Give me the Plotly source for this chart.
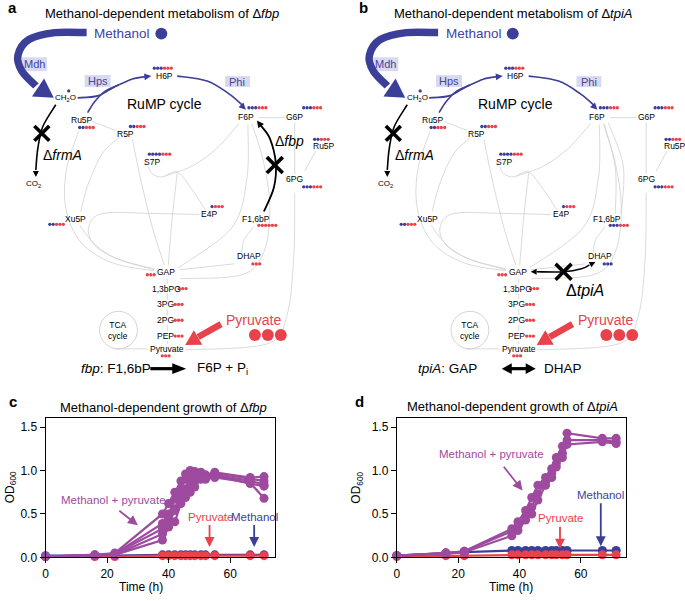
import math
import plotly.graph_objects as go

# ------------------------------------------------------------------
# DATA
# ------------------------------------------------------------------
time_fbp = [0, 16, 22.5, 38, 40, 42, 44, 45.5, 47, 48.5, 50.5, 52, 55, 66.5, 71]
fbp_meoh_pyr = [
    [0.01, 0.03, 0.05, 0.50, 0.62, 0.75, 0.88, 0.96, 1.00, 0.99, 0.98, 0.95, 0.98, 0.92, 0.93],
    [0.01, 0.03, 0.04, 0.39, 0.50, 0.67, 0.80, 0.90, 0.97, 0.96, 0.95, 0.94, 0.97, 0.90, 0.88],
    [0.01, 0.02, 0.04, 0.33, 0.45, 0.56, 0.71, 0.79, 0.88, 0.94, 0.96, 0.93, 0.95, 0.88, 0.84],
    [0.01, 0.02, 0.03, 0.27, 0.40, 0.54, 0.66, 0.73, 0.82, 0.88, 0.92, 0.92, 0.94, 0.85, 0.82],
    [0.01, 0.02, 0.03, 0.20, 0.35, 0.41, 0.62, 0.69, 0.75, 0.81, 0.90, 0.90, 0.92, 0.86, 0.68],
]
fbp_methanol = [0.02, 0.02, 0.02, 0.03, 0.03, 0.03, 0.03, 0.03, 0.03, 0.03, 0.03, 0.03, 0.03, 0.03, 0.03]
fbp_pyruvate = [0.01, 0.01, 0.01, 0.02, 0.02, 0.02, 0.02, 0.02, 0.02, 0.02, 0.02, 0.02, 0.02, 0.02, 0.02]

time_tpiA = [0, 16, 22, 37.5, 39.5, 42, 44, 46, 48.5, 50.5, 52, 54, 55.5, 67, 71.5]
tpiA_meoh_pyr = [
    [0.02, 0.05, 0.07, 0.33, 0.41, 0.54, 0.69, 0.83, 0.92, 1.02, 1.15, 1.28, 1.43, 1.37, 1.37],
    [0.02, 0.05, 0.07, 0.30, 0.36, 0.47, 0.58, 0.73, 0.87, 0.97, 1.08, 1.20, 1.35, 1.35, 1.33],
    [0.02, 0.04, 0.06, 0.25, 0.31, 0.43, 0.50, 0.66, 0.83, 0.92, 1.04, 1.15, 1.30, 1.33, 1.31],
]
tpiA_methanol = [0.02, 0.05, 0.06, 0.08, 0.08, 0.08, 0.08, 0.08, 0.08, 0.08, 0.08, 0.08, 0.08, 0.08, 0.08]
tpiA_methanol_err = [0.005, 0.01, 0.01, 0.012, 0.012, 0.012, 0.012, 0.012, 0.012, 0.012, 0.012, 0.012, 0.012, 0.012, 0.012]
tpiA_pyruvate = [0.01, 0.02, 0.02, 0.03, 0.03, 0.03, 0.03, 0.03, 0.03, 0.03, 0.03, 0.03, 0.03, 0.03, 0.03]

x_ticks = [0, 20, 40, 60]
y_ticks = [0, 0.5, 1.0, 1.5]

# metabolite label-dot rows: (number blue, number red) per panel
dots_fbp = {"H6P": (3, 3), "F6P": (3, 3), "G6P": (3, 3), "Ru5P_r": (2, 3), "6PG": (3, 3),
            "Ru5P_l": (2, 3), "R5P": (2, 3), "S7P": (4, 3), "E4P": (1, 3), "Xu5P": (2, 3),
            "F1,6bP": (0, 6), "DHAP": (0, 3), "GAP": (0, 3), "1,3bPG": (0, 3), "3PG": (0, 3),
            "2PG": (0, 3), "PEP": (0, 3), "Pyruvate": (0, 3), "CH2O": (1, 0)}
dots_tpiA = dict(dots_fbp)
dots_tpiA["F1,6bP"] = (3, 3)
dots_tpiA["DHAP"] = (3, 0)

# ------------------------------------------------------------------
# STYLE
# ------------------------------------------------------------------
FONT = "Liberation Sans, Arial, Helvetica, sans-serif"
PURPLE = "#9E4A9F"
RED = "#E8424B"
BLUE = "#3B3F98"
BLUE_TXT = "#4343A3"
GREY = "#D0D0D0"
LAV = "#D8D8EE"
W, H = 685, 601

shapes = []
annots = []
dot_x, dot_y, dot_c = [], [], []


def P(x, y):
    return f"{x:.1f},{y:.1f}"


def smooth(pts):
    if len(pts) == 2:
        return f"M{P(*pts[0])} L{P(*pts[1])}"
    d = f"M{P(*pts[0])}"
    for i in range(len(pts) - 1):
        p0 = pts[i - 1] if i > 0 else pts[i]
        p1, p2 = pts[i], pts[i + 1]
        p3 = pts[i + 2] if i + 2 < len(pts) else p2
        c1 = (p1[0] + (p2[0] - p0[0]) / 6, p1[1] + (p2[1] - p0[1]) / 6)
        c2 = (p2[0] - (p3[0] - p1[0]) / 6, p2[1] - (p3[1] - p1[1]) / 6)
        d += f" C{P(*c1)} {P(*c2)} {P(*p2)}"
    return d


def curve(pts, color, width, layer="below"):
    shapes.append(dict(type="path", xref="x3", yref="y3", path=smooth(pts),
                       line=dict(color=color, width=width), layer=layer))


def head(tip, frm, L, hw, color):
    dx, dy = tip[0] - frm[0], tip[1] - frm[1]
    n = math.hypot(dx, dy)
    ux, uy = dx / n, dy / n
    bx, by = tip[0] - ux * L, tip[1] - uy * L
    px, py = -uy, ux
    path = f"M{P(*tip)} L{P(bx + px * hw, by + py * hw)} L{P(bx - px * hw, by - py * hw)} Z"
    shapes.append(dict(type="path", xref="x3", yref="y3", path=path,
                       fillcolor=color, line=dict(width=0), layer="above"))


def cross(cx, cy, s, color="black", w=3.6):
    for sx in (-1, 1):
        shapes.append(dict(type="line", xref="x3", yref="y3", x0=cx - s, y0=cy - s * sx,
                           x1=cx + s, y1=cy + s * sx, line=dict(color=color, width=w),
                           layer="above"))


def circle(cx, cy, r, fill=None, line=None, lw=0.8):
    shapes.append(dict(type="circle", xref="x3", yref="y3", x0=cx - r, x1=cx + r,
                       y0=cy - r, y1=cy + r, fillcolor=fill or "rgba(0,0,0,0)",
                       line=dict(color=line or "rgba(0,0,0,0)", width=lw if line else 0),
                       layer="above"))


def rect(x0, y0, x1, y1, fill):
    shapes.append(dict(type="rect", xref="x3", yref="y3", x0=x0, x1=x1, y0=y0, y1=y1,
                       fillcolor=fill, line=dict(width=0), layer="below"))


def text(x, y, s, size=9, color="black", xa="center", ya="middle", angle=0, bold=False):
    if bold:
        s = f"<b>{s}</b>"
    annots.append(dict(x=x, y=y, xref="x3", yref="y3", text=s, showarrow=False,
                       font=dict(family=FONT, size=size, color=color),
                       xanchor=xa, yanchor=ya, textangle=angle))


def dotrow(x0, y, nb, nr, step=3.4):
    for i in range(nb + nr):
        dot_x.append(x0 + i * step)
        dot_y.append(y)
        dot_c.append(BLUE if i < nb else RED)


node_pos = {"H6P": (162, 77), "F6P": (244, 118), "G6P": (293, 118), "Ru5P_r": (322, 148),
            "6PG": (293, 181), "Ru5P_l": (79, 121), "R5P": (123, 136), "S7P": (150, 164),
            "E4P": (207, 217), "Xu5P": (73, 222), "F1,6bP": (254, 222), "DHAP": (247, 259),
            "GAP": (164, 275), "1,3bPG": (164, 292), "3PG": (163, 308), "2PG": (163, 324),
            "PEP": (163, 340), "Pyruvate": (165, 353)}
dot_pos = {"H6P": (152, 69), "F6P": (247, 109), "G6P": (302, 109), "Ru5P_r": (313, 141),
           "6PG": (302, 189), "Ru5P_l": (77, 129), "R5P": (128, 128), "S7P": (147, 156),
           "E4P": (210, 209), "Xu5P": (47, 227), "F1,6bP": (257, 228), "DHAP": (251, 267),
           "GAP": (145, 278), "1,3bPG": (177, 292), "3PG": (173, 308), "2PG": (173, 324),
           "PEP": (173, 340), "Pyruvate": (160, 360), "CH2O": (66, 92)}


def panel(ox, variant):
    def T(pts):
        return [(x + ox, y) for x, y in pts]

    # grey network
    grey_lines = [
        [(90, 123), (113, 132)],
        [(76, 133), (64, 170), (63, 210), (78, 245), (110, 266), (152, 274)],
        [(117, 139), (100, 155), (86, 185), (78, 214)],
        [(77, 228), (92, 247), (115, 262), (152, 272)],
        [(197, 217), (150, 216), (100, 216), (86, 230), (92, 248), (115, 262), (152, 273)],
        [(130, 141), (138, 180), (150, 230), (162, 268)],
        [(146, 169), (150, 176), (160, 179), (175, 174), (190, 192), (203, 212)],
        [(175, 175), (170, 220), (166, 268)],
        [(237, 125), (215, 150), (190, 168), (163, 178)],
        [(246, 126), (245, 180), (230, 230), (176, 271)],
        [(257, 119), (283, 119)],
        [(293, 124), (293, 176)],
        [(303, 173), (314, 153)],
        [(293, 195), (292, 260), (285, 320), (265, 348), (183, 354)],
        [(252, 229), (242, 243), (240, 255)],
        [(177, 273), (232, 267)],
        [(250, 125), (262, 165), (268, 210), (262, 255), (240, 278), (178, 282)],
        [(165, 282), (165, 287)], [(165, 297), (165, 303)], [(165, 313), (165, 319)],
        [(165, 329), (165, 335)], [(165, 345), (165, 348)],
        [(112, 353), (145, 353)],
    ]
    if variant == "tpiA":
        grey_lines += [[(251, 126), (262, 170), (262, 216)], [(255, 124), (270, 168), (268, 216)]]
    for g in grey_lines:
        curve(T(g), GREY, 0.8)

    # title & label
    text(3 + ox, 8, "a" if variant == "fbp" else "b", size=15, bold=True, xa="left")
    gene = "fbp" if variant == "fbp" else "tpiA"
    text(160 + ox, 14, f"Methanol-dependent metabolism of \u0394<i>{gene}</i>", size=13)

    # methanol input
    text(120 + ox, 34, "Methanol", size=13.5, color=BLUE_TXT)
    circle(159 + ox, 34, 6, fill=BLUE)
    curve(T([(84, 33), (52, 33), (26, 40), (15, 56), (19, 72), (33, 87)]), BLUE, 7.5, layer="above")
    head((51 + ox, 99), (30 + ox, 85), 19, 11, BLUE)
    rect(19 + ox, 58, 44 + ox, 72, LAV)
    text(31.5 + ox, 65, "Mdh", size=11, color=BLUE_TXT)
    text(63 + ox, 99, "CH<sub>2</sub>O", size=8)

    # RuMP arrows
    curve(T([(75, 99), (95, 97), (112, 88), (130, 80), (144, 77.5)]), BLUE, 1.6)
    curve(T([(85, 114), (92, 103), (103, 92), (116, 86)]), BLUE, 1.6)
    head((149 + ox, 77), (140 + ox, 78), 7, 3.5, BLUE)
    curve(T([(175, 77), (205, 82), (227, 95), (240, 106)]), BLUE, 1.6)
    head((244 + ox, 111), (237 + ox, 104), 7, 3.5, BLUE)
    rect(82 + ox, 76, 108 + ox, 88, LAV)
    text(95 + ox, 82, "Hps", size=11, color=BLUE_TXT)
    rect(223 + ox, 77, 248 + ox, 88, LAV)
    text(235.5 + ox, 82.5, "Phi", size=11, color=BLUE_TXT)
    text(162 + ox, 105, "RuMP cycle", size=14)

    # node labels
    labels = {"Ru5P_r": "Ru5P", "Ru5P_l": "Ru5P"}
    for k, (x, y) in node_pos.items():
        text(x + ox, y, labels.get(k, k), size=8.5)
    ddef = dots_fbp if variant == "fbp" else dots_tpiA
    for k, (nb, nr) in ddef.items():
        x, y = dot_pos[k]
        dotrow(x + ox, y, nb, nr)

    # frmA deletion
    curve(T([(53, 106), (40, 128), (35, 150), (33, 172)]), "black", 1.6)
    head((33 + ox, 179), (33 + ox, 170), 6, 3, "black")
    cross(39 + ox, 135, 7.5)
    text(60 + ox, 157, "\u0394<i>frmA</i>", size=14)
    text(31 + ox, 186, "CO<sub>2</sub>", size=8)

    # TCA cycle
    circle(116 + ox, 334, 19, line="#C8C8C8", lw=0.8)
    text(116 + ox, 334, "TCA<br>cycle", size=8.5)

    # pyruvate input
    text(252 + ox, 324, "Pyruvate", size=14, color=RED)
    for cx in (253, 266, 279):
        circle(cx + ox, 339, 6, fill=RED)
    curve(T([(219, 328), (196, 341)]), RED, 6.5, layer="above")
    head((183 + ox, 349), (219 + ox, 328), 15, 8.5, RED)

    if variant == "fbp":
        curve(T([(262, 214), (272, 190), (274, 165), (268, 140), (259, 127)]), "black", 1.8)
        head((255 + ox, 122), (262 + ox, 131), 7, 3.5, "black")
        cross(273 + ox, 167, 8)
        text(288 + ox, 143, "\u0394<i>fbp</i>", size=14)
        # reaction line
        text(76, 373, "<i>fbp</i>: F1,6bP", size=13.5, xa="left")
        shapes.append(dict(type="line", xref="x3", yref="y3", x0=148, x1=171, y0=373, y1=373,
                           line=dict(color="black", width=3.2), layer="above"))
        head((184, 373), (148, 373), 14, 5.5, "black")
        text(193, 373, "F6P + P<sub>i</sub>", size=13.5, xa="left")
    else:
        curve(T([(183, 275), (210, 275), (228, 272), (236, 268)]), "black", 1.6)
        head((177 + ox, 275), (186 + ox, 275), 6, 3, "black")
        head((242 + ox, 265), (234 + ox, 269), 6, 3, "black")
        cross(210 + ox, 275, 8)
        text(232 + ox, 294, "\u0394<i>tpiA</i>", size=16)
        text(415, 373, "<i>tpiA</i>: GAP", size=13.5, xa="left")
        shapes.append(dict(type="line", xref="x3", yref="y3", x0=510, x1=526, y0=373, y1=373,
                           line=dict(color="black", width=3.2), layer="above"))
        head((501, 373), (520, 373), 10, 5.5, "black")
        head((535, 373), (516, 373), 10, 5.5, "black")
        text(541, 373, "DHAP", size=13.5, xa="left")


panel(0, "fbp")
panel(353, "tpiA")

# bottom chart labels
text(4, 406, "c", size=15, bold=True, xa="left")
text(352, 406, "d", size=15, bold=True, xa="left")
text(161, 412, "Methanol-dependent growth of \u0394<i>fbp</i>", size=13)
text(512, 411, "Methanol-dependent growth of \u0394<i>tpiA</i>", size=13)
text(139, 594, "Time (h)", size=12)
text(510, 594, "Time (h)", size=12)
text(8, 493, "OD<sub>600</sub>", size=12, angle=-90)
text(356, 493, "OD<sub>600</sub>", size=12, angle=-90)

# ------------------------------------------------------------------
# FIGURE
# ------------------------------------------------------------------
fig = go.Figure()


def series(x, y, color, xa, ya, err=None):
    tr = go.Scatter(x=x, y=y, mode="lines+markers", xaxis=xa, yaxis=ya,
                    line=dict(color=color, width=2.2),
                    marker=dict(color=color, size=9), cliponaxis=False, showlegend=False,
                    hoverinfo="skip")
    if err is not None:
        tr.error_y = dict(type="data", array=err, color=color, thickness=1, width=4)
    fig.add_trace(tr)


series(time_fbp, fbp_methanol, BLUE, "x", "y")
series(time_fbp, fbp_pyruvate, RED, "x", "y")
for rep in fbp_meoh_pyr:
    series(time_fbp, rep, PURPLE, "x", "y")

series(time_tpiA, tpiA_methanol, BLUE, "x2", "y2", err=tpiA_methanol_err)
series(time_tpiA, tpiA_pyruvate, RED, "x2", "y2")
for rep in tpiA_meoh_pyr:
    series(time_tpiA, rep, PURPLE, "x2", "y2")

# metabolite dots on overlay axis
fig.add_trace(go.Scatter(x=dot_x, y=dot_y, mode="markers", xaxis="x3", yaxis="y3",
                         marker=dict(color=dot_c, size=3.3, line=dict(width=0)),
                         showlegend=False, hoverinfo="skip"))


# in-chart annotations
def chart_note(xr, yr, label, lx, ly, tail, tip, color):
    annots.append(dict(x=lx, y=ly, xref=xr, yref=yr, text=label, showarrow=False,
                       font=dict(family=FONT, size=11.5, color=color)))
    annots.append(dict(x=tip[0], y=tip[1], ax=tail[0], ay=tail[1], xref=xr, yref=yr,
                       axref=xr, ayref=yr, text="", showarrow=True, arrowhead=2,
                       arrowsize=1.1, arrowwidth=1.8, arrowcolor=color))


chart_note("x", "y", "Methanol + pyruvate", 22, 0.66, (23.5, 0.55), (30, 0.37), PURPLE)
chart_note("x", "y", "Pyruvate", 53.5, 0.47, (53.3, 0.39), (53.3, 0.12), RED)
chart_note("x", "y", "Methanol", 68, 0.47, (67.8, 0.39), (67.8, 0.12), BLUE)
chart_note("x2", "y2", "Methanol + pyruvate", 31, 1.19, (34.5, 1.06), (41, 0.77), PURPLE)
chart_note("x2", "y2", "Pyruvate", 53.5, 0.45, (53.2, 0.37), (53.2, 0.1), RED)
chart_note("x2", "y2", "Methanol", 66.5, 0.72, (66.5, 0.64), (66.5, 0.13), BLUE)

ax_common = dict(showline=True, linecolor="black", linewidth=1, mirror=True, ticks="outside",
                 ticklen=5, tickcolor="black", showgrid=False, zeroline=False,
                 tickfont=dict(family=FONT, size=12, color="black"), fixedrange=True)

fig.update_layout(
    width=W, height=H, margin=dict(l=0, r=0, t=0, b=0),
    paper_bgcolor="white", plot_bgcolor="rgba(0,0,0,0)",
    showlegend=False,
    xaxis=dict(domain=[42.7 / W, 273.3 / W], range=[0, 74.6], tickvals=x_ticks, anchor="y", **ax_common),
    yaxis=dict(domain=[1 - 564 / H, 1 - 423.3 / H], range=[0, 1.6], tickvals=y_ticks,
               tickformat=".1f", anchor="x", **ax_common),
    xaxis2=dict(domain=[395.5 / W, 626 / W], range=[0, 74.8], tickvals=x_ticks, anchor="y2", **ax_common),
    yaxis2=dict(domain=[1 - 564 / H, 1 - 423.3 / H], range=[0, 1.6], tickvals=y_ticks,
                tickformat=".1f", anchor="x2", **ax_common),
    xaxis3=dict(domain=[0, 1], range=[0, W], visible=False, fixedrange=True, anchor="y3"),
    yaxis3=dict(domain=[0, 1], range=[H, 0], visible=False, fixedrange=True, anchor="x3"),
    shapes=shapes, annotations=annots,
    font=dict(family=FONT),
)

fig.write_html("out.html", config={"displayModeBar": False},
               post_script="document.body.style.margin='0';document.body.style.overflow='hidden';")
